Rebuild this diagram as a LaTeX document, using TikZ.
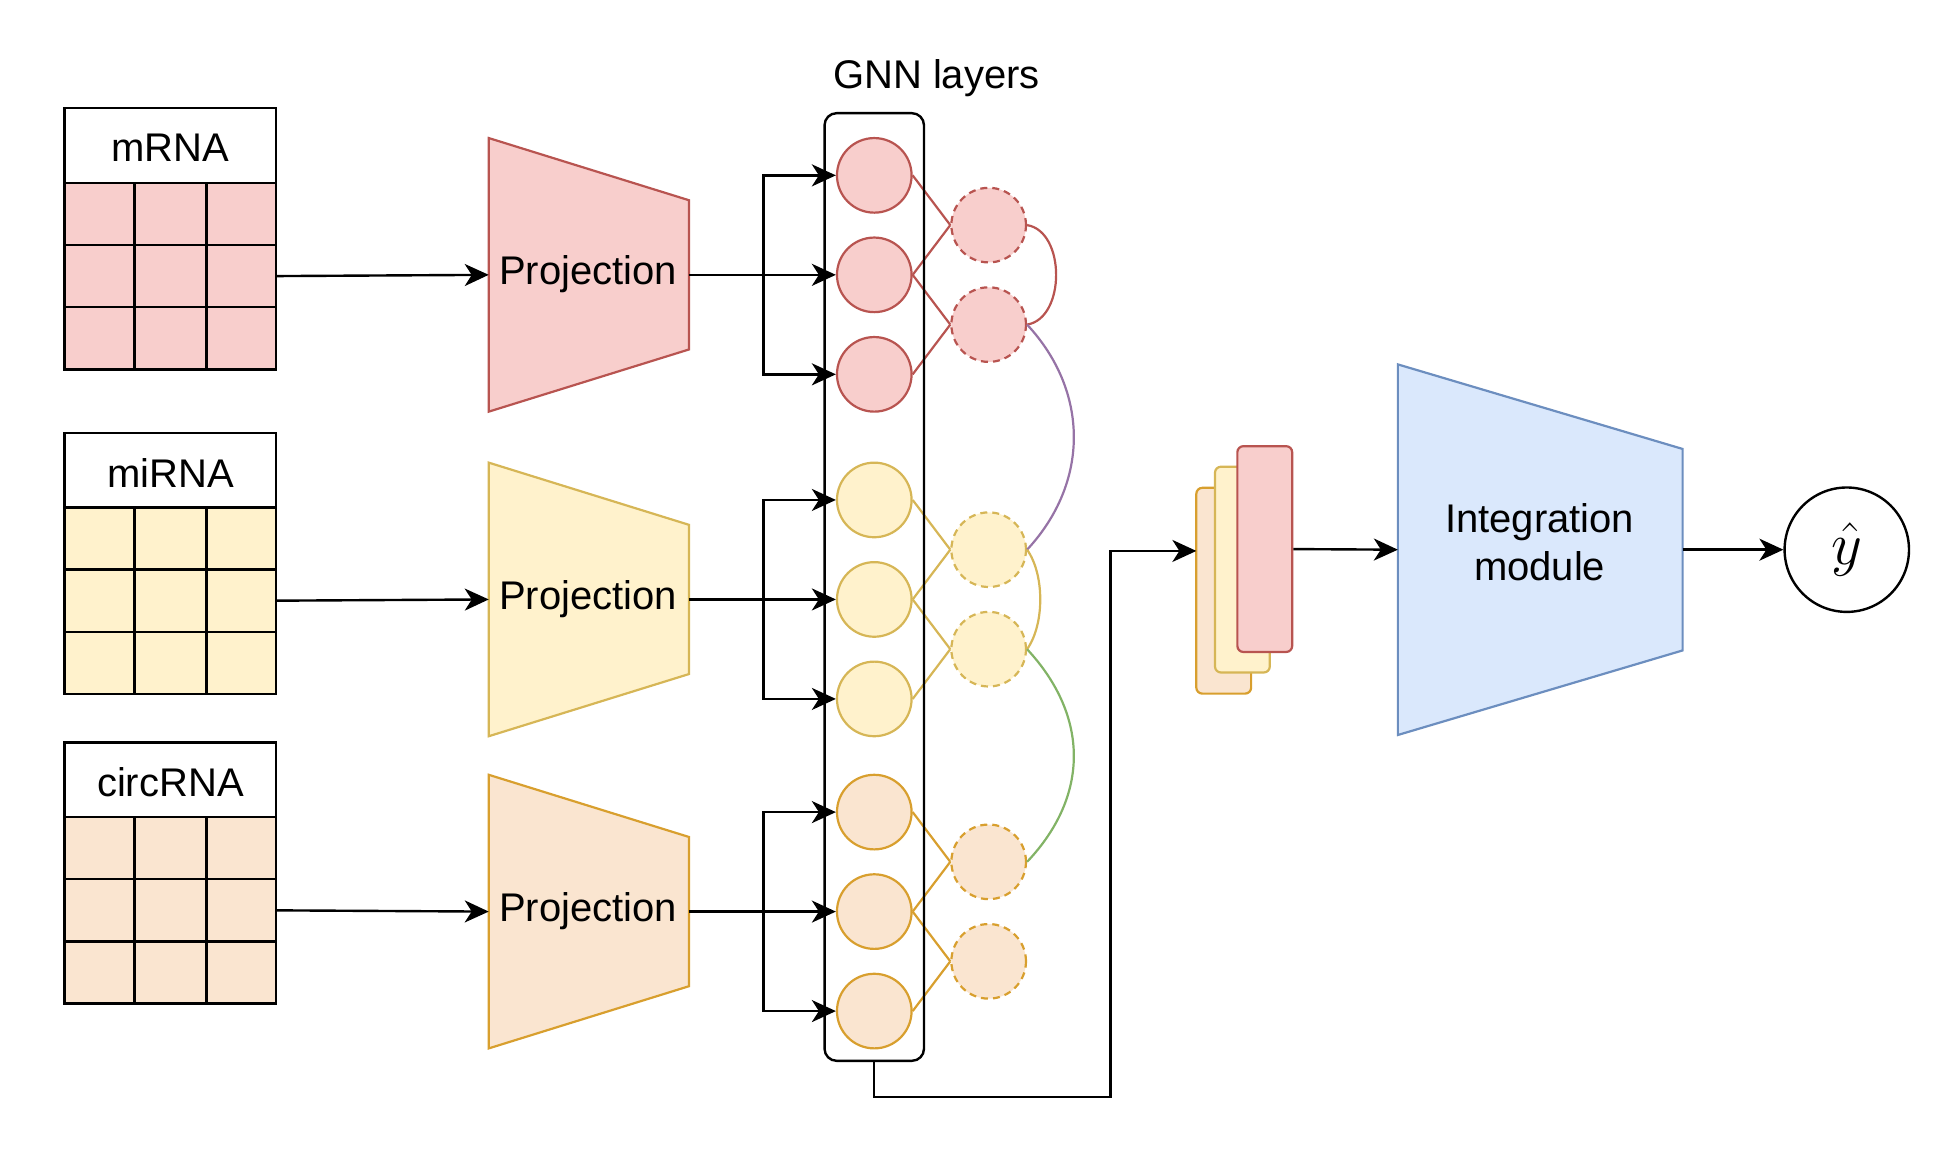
\documentclass[tikz,border=0pt]{standalone}
\usepackage{graphicx}
\usepackage{fontspec}
\setmainfont{Liberation Sans}
\usetikzlibrary{arrows.meta}
\definecolor{redfill}{HTML}{F8CECC}
\definecolor{redline}{HTML}{B85450}
\definecolor{yelfill}{HTML}{FFF2CC}
\definecolor{yelline}{HTML}{D6B656}
\definecolor{orafill}{HTML}{FAE5D0}
\definecolor{oraline}{HTML}{D89F2E}
\definecolor{bluefill}{HTML}{DAE8FC}
\definecolor{blueline}{HTML}{6C8EBF}
\definecolor{purpline}{HTML}{9673A6}
\definecolor{greenline}{HTML}{82B366}
\begin{document}
\begin{tikzpicture}[x=0.6218pt,y=-0.6218pt,
  every node/.style={font=\fontsize{20}{24}\selectfont},
  blk/.style={line width=1.2pt, draw=black},
  arr/.style={blk,-{Stealth[length=12pt,width=11pt,inset=3.5pt]}},
  gnode/.style={circle, minimum size=37.3pt, inner sep=0pt, line width=1.1pt, draw=#1line, fill=#1fill},
  hnode/.style={gnode=#1, dash pattern=on 3.5pt off 2.5pt},
  edge/.style={line width=1.1pt, draw=#1line},
  stackbox/.style={rounded corners=3pt, line width=1.1pt, draw=#1line, fill=#1fill, minimum width=27.4pt, minimum height=102.9pt, inner sep=0pt},
  ]
\useasboundingbox (0,0) rectangle (1568,934);

% tables, projections, GNN nodes
\foreach \nm/\lbl/\t/\p/\g/\c in {m/mRNA/87/111/141/red, mi/miRNA/348/372/402/yel, c/circRNA/597/623/653/ora} {
  % table
  \draw[blk, fill=\c fill] (52,{\t+60}) rectangle (222,{\t+210});
  \draw[blk] (108,{\t+60}) -- (108,{\t+210});
  \draw[blk] (166,{\t+60}) -- (166,{\t+210});
  \draw[blk] (52,{\t+110}) -- (222,{\t+110});
  \draw[blk] (52,{\t+160}) -- (222,{\t+160});
  \draw[blk, fill=white] (52,\t) rectangle (222,{\t+60});
  \node (tab\nm) at (137,{\t+32}) {\lbl};
  \coordinate (tabout\nm) at (222,{\t+135});
  % projection
  \draw[line width=1.1pt, draw=\c line, fill=\c fill] (393,\p) -- (554,{\p+50}) -- (554,{\p+170}) -- (393,{\p+220}) -- cycle;
  \node[anchor=base] (proj\nm) at (473,{\p+118}) {Projection};
  \coordinate (pin\nm) at (393,{\p+110});
  \coordinate (pout\nm) at (554,{\p+110});
  \coordinate (br\nm) at (614,{\p+110});
  \draw[arr] (tabout\nm) -- (pin\nm);
  % GNN nodes
  \node[gnode=\c] (g\nm1) at (703,\g) {};
  \node[gnode=\c] (g\nm2) at (703,{\g+80}) {};
  \node[gnode=\c] (g\nm3) at (703,{\g+160}) {};
  \node[hnode=\c] (h\nm1) at (795,{\g+40}) {};
  \node[hnode=\c] (h\nm2) at (795,{\g+120}) {};
  \draw[arr] (pout\nm) -- (g\nm2.west);
  \draw[arr] (br\nm) |- (g\nm1.west);
  \draw[arr] (br\nm) |- (g\nm3.west);
  \draw[edge=\c] (g\nm1.east) -- (h\nm1.west);
  \draw[edge=\c] (g\nm2.east) -- (h\nm1.west);
  \draw[edge=\c] (g\nm2.east) -- (h\nm2.west);
  \draw[edge=\c] (g\nm3.east) -- (h\nm2.west);
}

% GNN box
\node[blk, rounded corners=6pt, minimum width=49.7pt, minimum height=473.8pt, inner sep=0pt] (gnn) at (703,472) {};
\node[anchor=base] (gnnlbl) at (753,71) {GNN layers};

% inter-layer curves
\draw[edge=red] (hm1.east) .. controls (857,186) and (857,256) .. (hm2.east);
\draw[line width=1.1pt, purpline] (hm2.east) .. controls (876,315) and (876,388) .. (hmi1.east);
\draw[edge=yel] (hmi1.east) .. controls (840,462) and (840,502) .. (hmi2.east);
\draw[line width=1.1pt, greenline] (hmi2.east) .. controls (876,576) and (876,640) .. (hc1.east);

% stacked embeddings
\node[stackbox=ora] (stko) at (984,475) {};
\node[stackbox=yel] (stky) at (999,458) {};
\node[stackbox=red] (stkr) at (1017,441.5) {};
\coordinate (stkin) at (962,443);
\coordinate (bend) at (893,882);
\draw[arr] (gnn.south) |- (bend) |- (stkin);

% integration module
\draw[line width=1.1pt, draw=blueline, fill=bluefill] (1124,293) -- (1353,361) -- (1353,523) -- (1124,591) -- cycle;
\node[align=center, font=\fontsize{20}{23.6}\selectfont] (integ) at (1238,436) {Integration\\module};
\coordinate (intin) at (1124,442);
\coordinate (intout) at (1353,442);
\draw[arr] (stkr.east) -- (intin);

% output
\node[circle, blk, minimum size=62.2pt, inner sep=0pt] (yhat) at (1485,442) {\scalebox{1.45}{$\hat{y}$}};
\draw[arr] (intout) -- (yhat.west);
\end{tikzpicture}
\end{document}
